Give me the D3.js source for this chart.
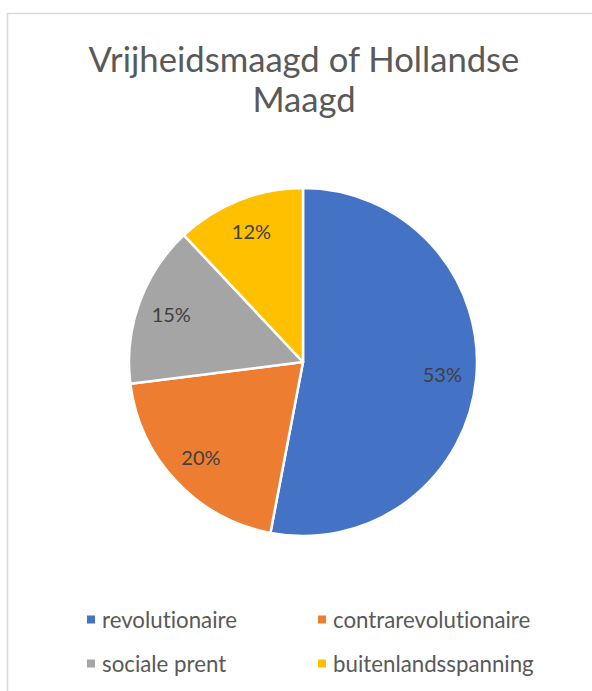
<!DOCTYPE html>
<html>
<head>
<meta charset="utf-8">
<script src="https://cdn.jsdelivr.net/npm/d3@7"></script>
<style>
  body { margin: 0; background: #fff; }
  svg { display: block; }
  text { font-variant-ligatures: none; font-feature-settings: "liga" 0; }
</style>
</head>
<body>
<div id="chart"></div>
<script>
var categories = ["revolutionaire", "contrarevolutionaire", "sociale prent", "buitenlandsspanning"];
var values = [53, 20, 15, 12];
var colors = ["#4472c4", "#ed7d31", "#a5a5a5", "#ffc000"];
var titleLines = ["Vrijheidsmaagd of Hollandse", "Maagd"];

var width = 592, height = 691;
var font = "Lato, 'Open Sans', sans-serif";

var svg = d3.select("#chart").append("svg")
  .attr("width", width)
  .attr("height", height);

svg.append("rect")
  .attr("width", width).attr("height", height)
  .attr("fill", "#fff");

// chart frame, runs off the right and bottom
svg.append("rect")
  .attr("x", 7.5).attr("y", 13.5)
  .attr("width", 700).attr("height", 800)
  .attr("fill", "none")
  .attr("stroke", "#d9d9d9")
  .attr("stroke-width", 1.5);

// fit a text element to a target width
function fit(sel, target) {
  var w = sel.node().getComputedTextLength();
  var fs = parseFloat(sel.attr("font-size"));
  sel.attr("font-size", fs * target / w);
}

var title = svg.append("g");
var t1 = title.append("text")
  .attr("x", 304).attr("y", 72)
  .attr("text-anchor", "middle")
  .attr("font-family", font).attr("font-size", 32)
  .attr("fill", "#595959")
  .text(titleLines[0])
  .call(fit, 431);
title.append("text")
  .attr("x", 304).attr("y", 112)
  .attr("text-anchor", "middle")
  .attr("font-family", font).attr("font-size", t1.attr("font-size"))
  .attr("fill", "#595959")
  .text(titleLines[1]);

var cx = 303, cy = 362, r = 174;

var pie = d3.pie().sort(null).value(function(d){ return d; });
var arc = d3.arc().innerRadius(0).outerRadius(r);
var labelArc = d3.arc().innerRadius(140).outerRadius(140);

var total = d3.sum(values);
var g = svg.append("g").attr("transform", "translate(" + cx + "," + cy + ")");

var arcs = pie(values);
g.selectAll("path")
  .data(arcs)
  .enter().append("path")
    .attr("d", arc)
    .attr("fill", function(d,i){ return colors[i]; })
    .attr("stroke", "#fff")
    .attr("stroke-width", 2.5)
    .attr("stroke-linejoin", "round");

g.selectAll("text.lbl")
  .data(arcs)
  .enter().append("text")
    .attr("class", "lbl")
    .attr("transform", function(d){ return "translate(" + labelArc.centroid(d) + ")"; })
    .attr("dy", "0.35em")
    .attr("text-anchor", "middle")
    .attr("font-family", font)
    .attr("font-size", 20)
    .attr("fill", "#404040")
    .text(function(d){ return Math.round(d.value / total * 100) + "%"; });

// legend, two columns
var legX = d3.scalePoint().domain([0, 1]).range([87, 318]);
var legY = d3.scalePoint().domain([0, 1]).range([620, 664]);

var leg = svg.selectAll("g.leg")
  .data(categories)
  .enter().append("g")
    .attr("class", "leg")
    .attr("transform", function(d,i){
      return "translate(" + legX(i % 2) + "," + legY(Math.floor(i / 2)) + ")";
    });

leg.append("rect")
  .attr("x", 0).attr("y", -4.5)
  .attr("width", 8).attr("height", 8)
  .attr("fill", function(d,i){ return colors[i]; });

leg.append("text")
  .attr("x", 15)
  .attr("dy", "0.35em")
  .attr("font-family", font)
  .attr("font-size", 19)
  .attr("fill", "#595959")
  .text(function(d){ return d; });

leg.select("text").filter(function(d,i){ return d === "revolutionaire"; }).call(fit, 135);
var legFs = +svg.select("g.leg text").attr("font-size");
leg.selectAll("text").attr("font-size", legFs);
</script>
</body>
</html>
